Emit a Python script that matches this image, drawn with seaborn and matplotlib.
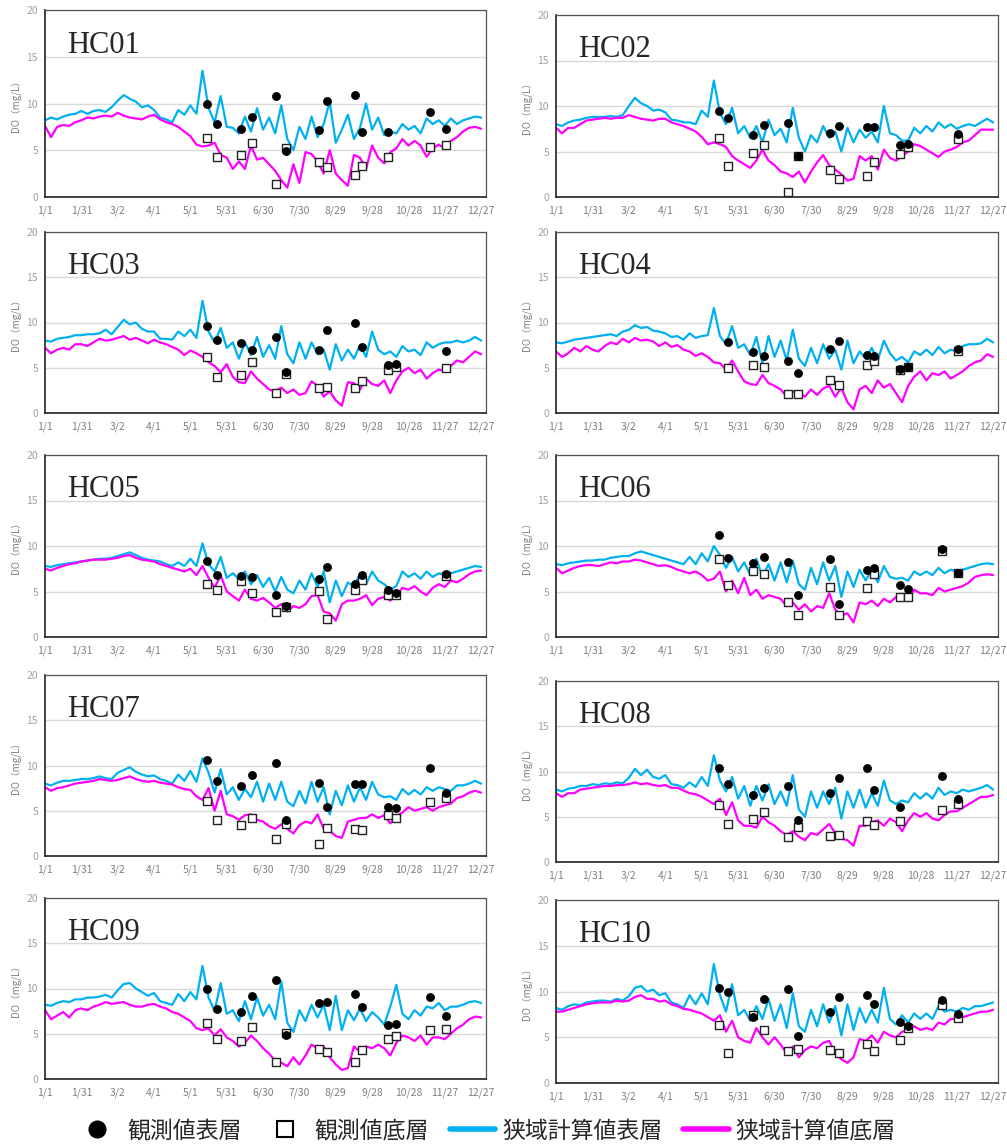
import numpy as np
import pandas as pd
import seaborn as sns
import matplotlib.pyplot as plt
from matplotlib.lines import Line2D

# simulated values read every 5 days (day 0 = 1/1)
SIM_DAYS = list(range(0, 365, 5))
OBS_DAYS = [134, 142, 162, 171, 191, 199, 226, 233, 256, 262, 283, 290, 318, 331]
TICK_DAYS = list(range(0, 361, 30))
TICK_LABELS = ["1/1", "1/31", "3/2", "4/1", "5/1", "5/31", "6/30", "7/30",
               "8/29", "9/28", "10/28", "11/27", "12/27"]
STATIONS = ["HC01", "HC02", "HC03", "HC04", "HC05",
            "HC06", "HC07", "HC08", "HC09", "HC10"]
nan = np.nan

HC01_SURF = [8.2, 8.5, 8.3, 8.6, 8.8, 8.9, 9.2, 8.9, 9.2, 9.3, 9.1, 9.6,
             10.3, 10.9, 10.5, 10.2, 9.6, 9.8, 9.3, 8.5, 8.3, 8.0, 9.3, 8.8,
             9.8, 8.9, 13.5, 9.5, 8.0, 10.8, 7.5, 7.4, 6.8, 8.6, 7.0, 9.5,
             7.2, 8.5, 6.8, 9.8, 6.2, 5.0, 7.5, 6.2, 8.6, 6.4, 7.8, 10.2,
             5.8, 7.2, 8.8, 6.2, 7.4, 10.0, 7.2, 8.5, 6.6, 7.0, 6.8, 7.8,
             7.2, 7.6, 6.8, 8.4, 7.8, 8.2, 7.6, 8.4, 7.8, 8.2, 8.4, 8.6,
             8.5]
HC01_BOT = [7.6, 6.4, 7.5, 7.7, 7.6, 8.0, 8.2, 8.5, 8.4, 8.6, 8.7, 8.6,
            9.0, 8.7, 8.5, 8.4, 8.3, 8.6, 8.8, 8.3, 8.0, 7.8, 7.5, 7.0,
            6.5, 5.6, 5.4, 5.5, 5.8, 4.5, 4.2, 3.0, 3.8, 3.0, 5.5, 4.0,
            4.2, 3.5, 2.8, 1.8, 1.0, 3.5, 1.5, 4.8, 4.6, 3.8, 2.5, 5.0,
            2.5, 1.8, 1.2, 4.5, 4.2, 3.0, 5.5, 4.2, 3.6, 4.8, 5.2, 6.2,
            5.5, 6.0, 5.5, 4.3, 5.2, 5.6, 5.2, 6.0, 6.4, 7.0, 7.4, 7.5,
            7.3]
HC02_SURF = [8.0, 7.8, 8.2, 8.4, 8.5, 8.7, 8.8, 8.8, 8.8, 8.9, 8.8, 9.0,
             10.0, 10.9, 10.3, 10.0, 9.5, 9.6, 9.3, 8.5, 8.4, 8.2, 8.2, 8.0,
             9.5, 8.8, 12.8, 9.2, 8.0, 9.8, 7.0, 7.8, 6.5, 7.8, 6.0, 8.5,
             6.8, 7.5, 6.0, 9.8, 6.5, 5.0, 6.8, 6.0, 7.8, 6.5, 7.2, 5.0,
             7.6, 6.0, 7.4, 6.5, 7.2, 6.0, 10.0, 7.0, 6.8, 6.2, 6.2, 7.6,
             7.0, 7.8, 7.2, 8.2, 7.6, 8.0, 7.5, 7.8, 8.0, 7.8, 8.2, 8.6,
             8.2]
HC02_BOT = [7.6, 7.0, 7.6, 7.6, 8.0, 8.4, 8.5, 8.6, 8.7, 8.6, 8.7, 8.7,
            9.0, 8.8, 8.6, 8.5, 8.4, 8.6, 8.6, 8.2, 8.0, 7.8, 7.5, 7.2,
            6.6, 5.8, 6.0, 5.8, 5.5, 4.5, 4.0, 3.6, 3.2, 4.0, 5.2, 4.0,
            3.5, 2.8, 2.6, 2.2, 2.8, 1.6, 2.8, 3.8, 4.6, 3.5, 3.0, 2.5,
            1.8, 2.0, 4.5, 4.0, 4.5, 3.0, 5.2, 4.3, 4.0, 4.5, 5.0, 5.8,
            5.6, 5.2, 4.8, 4.4, 5.0, 5.2, 5.5, 6.0, 6.2, 6.8, 7.4, 7.4,
            7.4]
HC03_SURF = [8.0, 7.9, 8.2, 8.3, 8.4, 8.6, 8.6, 8.7, 8.7, 8.8, 9.2, 8.7,
             9.5, 10.3, 9.8, 10.0, 9.3, 9.0, 9.0, 8.2, 8.2, 8.1, 9.0, 8.5,
             9.2, 8.3, 12.4, 9.0, 7.8, 9.4, 7.2, 7.8, 6.0, 7.8, 6.4, 8.4,
             6.2, 7.5, 6.0, 9.6, 6.5, 5.5, 7.8, 6.0, 7.8, 6.5, 7.0, 4.8,
             7.6, 5.8, 7.0, 6.0, 7.5, 6.2, 9.0, 7.0, 6.5, 6.8, 6.2, 7.4,
             6.8, 7.0, 6.4, 7.8, 7.2, 7.6, 7.8, 7.8, 8.0, 7.8, 8.0, 8.4,
             8.0]
HC03_BOT = [7.2, 6.6, 7.0, 7.2, 7.0, 7.6, 7.6, 7.4, 7.8, 8.2, 8.0, 8.1,
            8.3, 8.5, 8.1, 8.3, 8.0, 7.7, 8.1, 7.8, 7.6, 7.3, 7.0, 6.4,
            6.9, 6.6, 6.2, 5.6, 5.2, 4.5, 5.4, 4.0, 3.4, 3.3, 4.6, 3.8,
            3.2, 2.6, 2.4, 2.8, 2.2, 2.6, 2.0, 2.2, 3.5, 3.0, 1.8, 2.4,
            1.4, 0.8, 3.4, 3.3, 2.6, 3.8, 3.2, 3.0, 3.6, 2.2, 3.6, 4.6,
            5.0, 4.4, 4.8, 3.8, 4.4, 4.8, 4.6, 5.2, 5.8, 5.6, 6.2, 6.8,
            6.5]
HC04_SURF = [7.8, 7.7, 7.9, 8.1, 8.2, 8.3, 8.4, 8.5, 8.6, 8.7, 8.5, 9.0,
             9.2, 9.7, 9.4, 9.5, 9.1, 9.0, 8.8, 8.4, 8.5, 8.1, 8.8, 8.3,
             8.5, 8.6, 11.6, 8.5, 7.6, 9.6, 7.2, 7.6, 6.4, 8.4, 5.5, 8.5,
             6.2, 8.0, 5.8, 9.2, 6.0, 5.2, 7.2, 5.5, 7.6, 6.0, 7.0, 4.8,
             8.0, 5.5, 6.8, 6.0, 7.2, 5.8, 8.0, 6.6, 5.8, 6.2, 5.6, 6.8,
             6.4, 7.0, 6.4, 7.3, 6.6, 7.0, 6.8, 7.4, 7.6, 7.6, 7.7, 8.2,
             7.8]
HC04_BOT = [6.8, 6.2, 6.6, 7.2, 6.8, 7.4, 7.0, 6.8, 7.4, 7.8, 7.6, 8.2,
            7.8, 8.3, 8.0, 8.1, 7.9, 7.4, 7.8, 7.3, 7.5, 7.0, 6.8, 6.3,
            6.6, 6.2, 5.6, 5.5, 4.8, 5.8, 4.6, 3.5, 3.2, 3.1, 4.2, 3.3,
            3.0, 2.6, 1.8, 2.4, 2.2, 1.8, 2.6, 2.0, 2.7, 3.0, 1.8, 2.8,
            1.2, 0.4, 2.6, 3.0, 2.2, 3.6, 2.8, 3.2, 2.2, 1.2, 3.0, 4.0,
            4.6, 3.6, 4.4, 4.2, 4.6, 3.8, 4.2, 4.6, 5.2, 5.6, 5.8, 6.5,
            6.2]
HC05_SURF = [7.8, 7.7, 7.9, 8.0, 8.1, 8.2, 8.3, 8.4, 8.5, 8.6, 8.6, 8.7,
             8.9, 9.1, 9.3, 9.0, 8.7, 8.5, 8.4, 8.3, 8.0, 7.8, 8.2, 7.8,
             8.6, 7.8, 10.3, 8.0, 7.2, 8.8, 6.5, 7.0, 6.4, 7.2, 5.8, 6.8,
             5.5, 6.5, 5.0, 6.6, 5.2, 4.8, 6.2, 5.2, 7.0, 5.5, 7.2, 3.8,
             6.2, 4.5, 6.0, 5.5, 7.0, 5.8, 7.2, 6.2, 5.8, 5.2, 5.6, 7.2,
             6.6, 7.0, 6.4, 7.2, 6.6, 7.0, 6.8, 7.0, 7.2, 7.4, 7.6, 7.8,
             7.7]
HC05_BOT = [7.5, 7.3, 7.6, 7.8, 8.0, 8.1, 8.3, 8.4, 8.5, 8.5, 8.5, 8.6,
            8.7, 8.9, 9.0, 8.7, 8.5, 8.4, 8.3, 8.0, 7.8, 7.6, 7.4, 7.2,
            7.5, 6.8, 7.8, 6.5, 5.4, 6.8, 5.0, 4.5, 4.0, 5.2, 4.2, 4.0,
            4.3, 3.8, 3.2, 3.6, 2.8, 3.4, 3.2, 3.6, 4.5, 4.6, 2.8, 2.6,
            1.8, 3.6, 4.0, 4.0, 4.2, 4.6, 3.5, 4.2, 4.4, 4.0, 4.6, 5.4,
            5.2, 5.6, 5.0, 4.6, 5.4, 5.8, 5.5, 6.2, 6.0, 6.4, 6.9, 7.2,
            7.3]
HC06_SURF = [8.0, 7.9, 8.1, 8.2, 8.3, 8.4, 8.4, 8.5, 8.5, 8.7, 8.8, 8.9,
             8.9, 9.2, 9.4, 9.2, 9.0, 8.8, 8.6, 8.4, 8.2, 8.0, 8.8, 8.0,
             9.2, 8.3, 10.0, 9.0, 7.6, 8.8, 7.2, 8.2, 6.8, 8.6, 6.6, 8.0,
             6.2, 8.2, 6.0, 8.4, 5.8, 5.2, 7.6, 5.8, 8.2, 6.2, 7.8, 4.4,
             7.2, 5.5, 7.4, 6.2, 7.4, 6.0, 7.8, 6.6, 6.4, 6.5, 6.2, 7.2,
             6.8, 7.2, 6.8, 7.6, 7.0, 7.4, 7.2, 7.4, 7.6, 7.8, 8.0, 8.1,
             8.0]
HC06_BOT = [7.6, 7.0, 7.3, 7.6, 7.8, 7.9, 7.9, 7.8, 8.0, 8.2, 8.1, 8.3,
            8.3, 8.5, 8.4, 8.2, 8.0, 7.8, 7.9, 7.7, 7.4, 7.2, 7.0, 7.2,
            6.8, 6.2, 6.4, 7.2, 5.0, 6.2, 4.8, 6.5, 4.6, 5.2, 4.2, 4.6,
            4.4, 4.2, 3.4, 3.8, 3.0, 3.6, 2.8, 3.4, 3.2, 4.8, 3.0, 2.4,
            2.6, 1.6, 3.8, 3.6, 4.0, 3.4, 4.2, 3.8, 4.4, 4.0, 4.0, 5.2,
            4.8, 4.8, 4.6, 5.4, 5.0, 5.2, 5.4, 5.6, 6.0, 6.6, 6.8, 6.9,
            6.8]
HC07_SURF = [8.0, 7.8, 8.1, 8.3, 8.3, 8.4, 8.5, 8.5, 8.6, 8.8, 8.6, 8.5,
             9.2, 9.5, 9.8, 9.3, 9.0, 8.8, 8.9, 8.5, 8.3, 8.0, 9.0, 8.3,
             9.4, 8.2, 10.8, 9.2, 7.0, 9.6, 6.8, 7.6, 6.2, 7.4, 6.5, 8.2,
             6.0, 8.0, 6.2, 8.2, 6.0, 5.5, 7.2, 5.8, 8.2, 6.0, 7.6, 4.6,
             7.2, 5.6, 7.8, 6.0, 7.6, 6.2, 8.2, 6.8, 6.5, 6.6, 6.2, 7.4,
             6.8, 7.3, 6.8, 7.6, 7.2, 7.6, 7.4, 7.2, 7.8, 7.8, 8.0, 8.3,
             8.0]
HC07_BOT = [7.6, 7.2, 7.5, 7.6, 7.8, 8.0, 8.1, 8.2, 8.3, 8.5, 8.4, 8.3,
            8.4, 8.6, 8.8, 8.5, 8.3, 8.2, 8.3, 8.1, 8.0, 7.9, 7.6, 7.4,
            7.3, 6.6, 6.2, 7.5, 5.0, 7.2, 4.6, 4.4, 4.0, 4.5, 4.6, 4.0,
            3.8, 3.3, 3.0, 3.5, 3.0, 2.5, 3.4, 3.8, 3.6, 4.6, 3.0, 2.8,
            2.2, 2.0, 3.8, 4.0, 4.2, 4.2, 4.6, 4.2, 4.5, 3.6, 4.4, 4.8,
            5.4, 5.0, 5.2, 5.4, 5.0, 5.4, 5.6, 5.8, 6.4, 6.6, 7.0, 7.2,
            7.0]
HC08_SURF = [8.0, 7.8, 8.1, 8.2, 8.4, 8.4, 8.6, 8.5, 8.7, 8.6, 8.8, 8.7,
             9.3, 10.3, 9.6, 10.2, 9.4, 9.2, 9.6, 8.6, 8.5, 8.2, 8.8, 8.3,
             9.4, 8.4, 11.8, 9.0, 7.8, 9.4, 7.0, 8.4, 6.2, 8.4, 6.8, 8.6,
             6.4, 7.8, 6.2, 9.6, 5.8, 5.0, 7.8, 6.0, 7.8, 6.4, 8.2, 4.8,
             7.8, 6.0, 8.0, 6.0, 7.6, 6.2, 9.0, 6.8, 6.4, 6.8, 6.6, 7.6,
             7.0, 7.6, 7.0, 8.2, 7.4, 7.8, 7.6, 8.0, 7.8, 8.0, 8.2, 8.5,
             8.0]
HC08_BOT = [7.6, 7.2, 7.6, 7.6, 8.0, 8.1, 8.2, 8.3, 8.4, 8.4, 8.5, 8.5,
            8.6, 8.8, 8.6, 8.7, 8.5, 8.4, 8.5, 8.2, 8.2, 7.9, 7.6, 7.5,
            7.2, 6.8, 6.4, 7.0, 5.2, 6.6, 4.6, 4.0, 4.0, 3.8, 5.0, 4.4,
            4.0, 3.4, 3.0, 3.4, 2.8, 2.4, 3.2, 3.0, 3.6, 4.2, 3.2, 2.6,
            2.4, 1.8, 4.0, 4.0, 4.4, 4.6, 4.0, 4.8, 4.4, 3.4, 4.6, 5.4,
            5.0, 5.4, 4.8, 4.6, 5.2, 5.6, 5.6, 6.0, 6.4, 6.8, 7.2, 7.2,
            7.4]
HC09_SURF = [8.2, 8.1, 8.4, 8.6, 8.5, 8.8, 8.8, 9.0, 9.0, 9.1, 9.3, 9.0,
             9.8, 10.5, 10.6, 10.0, 9.6, 9.2, 9.5, 8.6, 8.4, 8.2, 9.4, 8.6,
             9.6, 8.8, 12.5, 9.0, 7.5, 10.6, 7.2, 7.6, 6.4, 8.6, 6.6, 9.0,
             7.0, 8.2, 6.6, 10.8, 6.2, 5.2, 7.6, 6.4, 8.2, 6.8, 8.2, 5.4,
             9.2, 5.4, 7.6, 6.5, 7.8, 6.4, 7.4, 6.8, 6.0, 8.0, 10.4, 7.2,
             6.6, 7.6, 7.0, 8.0, 7.8, 8.4, 7.6, 8.0, 8.0, 8.2, 8.5, 8.6,
             8.4]
HC09_BOT = [7.6, 6.6, 7.0, 7.4, 6.8, 7.6, 7.8, 7.6, 8.0, 8.2, 8.5, 8.3,
            8.4, 8.5, 8.2, 8.0, 8.0, 8.2, 8.3, 8.0, 7.8, 7.4, 7.2, 6.8,
            6.4, 5.6, 5.4, 5.6, 4.8, 5.5, 4.6, 4.2, 3.6, 4.0, 4.8, 4.2,
            3.4, 2.8, 2.0, 1.8, 1.4, 2.4, 1.6, 2.6, 3.8, 3.4, 3.6, 2.4,
            1.6, 1.0, 1.2, 3.6, 3.0, 3.6, 3.4, 3.8, 3.4, 2.6, 4.0, 4.8,
            4.6, 4.2, 4.8, 3.8, 4.6, 4.6, 4.4, 5.0, 5.6, 6.0, 6.6, 6.9,
            6.8]
HC10_SURF = [8.2, 8.0, 8.4, 8.6, 8.5, 8.8, 8.9, 9.0, 9.0, 8.9, 9.2, 9.0,
             9.5, 10.4, 10.6, 10.0, 10.2, 9.6, 9.8, 8.8, 8.6, 8.2, 9.6, 8.6,
             9.8, 8.6, 13.0, 9.6, 7.8, 10.8, 7.4, 8.0, 6.8, 8.4, 7.0, 9.2,
             6.8, 8.6, 6.0, 9.8, 6.2, 5.6, 8.0, 6.2, 8.6, 6.6, 8.4, 5.2,
             8.6, 5.8, 8.2, 6.6, 8.0, 6.6, 10.4, 7.0, 6.4, 7.4, 6.6, 7.6,
             7.0, 7.6, 7.0, 8.4, 7.8, 8.0, 7.8, 8.2, 8.0, 8.4, 8.4, 8.6,
             8.8]
HC10_BOT = [7.8, 7.8, 8.0, 8.2, 8.4, 8.6, 8.7, 8.8, 8.8, 8.8, 9.0, 8.9,
            9.0, 9.4, 9.6, 9.2, 9.2, 8.9, 9.0, 8.6, 8.4, 8.1, 8.0, 7.8,
            7.6, 7.2, 6.8, 7.4, 5.6, 6.8, 5.0, 4.6, 4.4, 6.0, 5.0, 4.2,
            5.0, 4.2, 3.2, 4.0, 2.8, 3.6, 4.0, 3.8, 4.4, 4.6, 3.2, 2.6,
            2.2, 2.8, 4.8, 4.6, 5.2, 4.4, 5.6, 5.2, 5.0, 5.6, 5.8, 6.2,
            5.8, 6.0, 5.8, 6.6, 6.4, 7.0, 7.0, 7.2, 7.4, 7.6, 7.8, 7.8,
            8.0]

# observed values at OBS_DAYS (nan = not observed at that station)
HC01_OBS_SURF = [10.0, 7.8, 7.3, 8.6, 10.8, 4.9, 7.2, 10.3, 10.9, 7.0, 6.9, nan, 9.1, 7.3]
HC01_OBS_BOT = [6.3, 4.25, 4.5, 5.75, 1.4, 5.2, 3.7, 3.2, 2.4, 3.3, 4.3, nan, 5.4, 5.6]
HC02_OBS_SURF = [9.45, 8.65, 6.8, 7.9, 8.1, 4.55, 7.0, 7.85, 7.65, 7.65, 5.75, 5.85, nan, 6.95]
HC02_OBS_BOT = [6.5, 3.4, 4.8, 5.7, 0.6, 4.55, 3.0, 2.0, 2.35, 3.85, 4.75, 5.5, nan, 6.4]
HC03_OBS_SURF = [9.65, 8.1, 7.75, 7.0, 8.35, 4.55, 7.0, 9.15, 9.9, 7.3, 5.35, 5.45, nan, 6.9]
HC03_OBS_BOT = [6.2, 4.0, 4.25, 5.65, 2.25, 4.35, 2.75, 2.85, 2.8, 3.55, 4.8, 5.05, nan, 5.0]
HC04_OBS_SURF = [nan, 7.85, 6.7, 6.35, 5.8, 4.45, 7.1, 8.0, 6.4, 6.25, 4.85, 5.1, nan, 7.05]
HC04_OBS_BOT = [nan, 4.95, 5.25, 5.1, 2.05, 2.15, 3.7, 3.1, 5.3, 5.8, 4.8, 5.1, nan, 6.8]
HC05_OBS_SURF = [8.3, 6.8, 6.75, 6.55, 4.65, 3.45, 6.4, 7.65, 5.85, 6.8, 5.2, 4.8, nan, 6.95]
HC05_OBS_BOT = [5.8, 5.2, 6.15, 4.8, 2.7, 3.35, 5.05, 2.0, 5.2, 6.3, 4.6, 4.6, nan, 6.7]
HC06_OBS_SURF = [11.2, 8.65, 8.1, 8.75, 8.2, 4.65, 8.55, 3.65, 7.35, 7.6, 5.7, 5.3, 9.7, 7.05]
HC06_OBS_BOT = [8.6, 5.7, 7.3, 6.95, 3.85, 2.4, 5.45, 2.45, 5.4, 6.95, 4.45, 4.4, 9.4, 7.05]
HC07_OBS_SURF = [10.6, 8.25, 7.7, 8.9, 10.3, 4.0, 8.1, 5.45, 8.0, 7.95, 5.4, 5.3, 9.75, 7.0]
HC07_OBS_BOT = [6.05, 3.95, 3.45, 4.25, 1.9, 3.5, 1.35, 3.05, 3.0, 2.85, 4.5, 4.2, 6.0, 6.4]
HC08_OBS_SURF = [10.4, 8.6, 7.4, 8.2, 8.4, 4.6, 7.6, 9.25, 10.4, 7.95, 6.1, nan, 9.55, 6.95]
HC08_OBS_BOT = [6.25, 4.25, 4.75, 5.5, 2.8, 3.9, 2.9, 2.95, 4.5, 4.1, 4.5, nan, 5.75, 6.45]
HC09_OBS_SURF = [10.0, 7.7, 7.45, 9.2, 10.9, 4.85, 8.45, 8.55, 9.4, 7.95, 6.0, 6.1, 9.1, 6.95]
HC09_OBS_BOT = [6.2, 4.4, 4.15, 5.75, 1.85, 5.1, 3.3, 3.0, 1.9, 3.15, 4.4, 4.8, 5.45, 5.55]
HC10_OBS_SURF = [10.4, 10.0, 7.2, 9.15, 10.3, 5.1, 7.75, 9.4, 9.6, 8.6, 6.7, 6.25, 9.1, 7.5]
HC10_OBS_BOT = [6.3, 3.25, 7.45, 5.75, 3.55, 3.7, 3.6, 3.3, 4.25, 3.45, 4.65, 6.0, 8.55, 7.1]

SIM = {
    "HC01": (HC01_SURF, HC01_BOT), "HC02": (HC02_SURF, HC02_BOT),
    "HC03": (HC03_SURF, HC03_BOT), "HC04": (HC04_SURF, HC04_BOT),
    "HC05": (HC05_SURF, HC05_BOT), "HC06": (HC06_SURF, HC06_BOT),
    "HC07": (HC07_SURF, HC07_BOT), "HC08": (HC08_SURF, HC08_BOT),
    "HC09": (HC09_SURF, HC09_BOT), "HC10": (HC10_SURF, HC10_BOT),
}
OBS = {
    "HC01": (HC01_OBS_SURF, HC01_OBS_BOT), "HC02": (HC02_OBS_SURF, HC02_OBS_BOT),
    "HC03": (HC03_OBS_SURF, HC03_OBS_BOT), "HC04": (HC04_OBS_SURF, HC04_OBS_BOT),
    "HC05": (HC05_OBS_SURF, HC05_OBS_BOT), "HC06": (HC06_OBS_SURF, HC06_OBS_BOT),
    "HC07": (HC07_OBS_SURF, HC07_OBS_BOT), "HC08": (HC08_OBS_SURF, HC08_OBS_BOT),
    "HC09": (HC09_OBS_SURF, HC09_OBS_BOT), "HC10": (HC10_OBS_SURF, HC10_OBS_BOT),
}

BLUE = "#00B0F0"
MAGENTA = "#FF00FF"

sns.set_style("white")
plt.rcParams["font.family"] = ["Noto Sans CJK JP", "DejaVu Sans"]

W, H = 1007, 1144
fig = plt.figure(figsize=(W / 100, H / 100), dpi=100)

# panel boxes in pixels: (left, right, top, bottom)
cols = [(45, 486), (556, 998)]
rows_left = [(10, 197), (232, 413), (455, 637), (675, 856), (898, 1079)]
rows_right = [(15, 197), (232, 413), (455, 637), (681, 862), (900, 1083)]

for i, name in enumerate(STATIONS):
    r, c = divmod(i, 2)
    x0, x1 = cols[c]
    y0, y1 = (rows_left if c == 0 else rows_right)[r]
    ax = fig.add_axes([x0 / W, 1 - y1 / H, (x1 - x0) / W, (y1 - y0) / H])

    surf, bot = SIM[name]
    sim = pd.DataFrame({"day": SIM_DAYS, "surf": surf, "bot": bot})
    osurf, obot = OBS[name]
    obs = pd.DataFrame({"day": OBS_DAYS, "surf": osurf, "bot": obot})

    sns.lineplot(data=sim, x="day", y="surf", ax=ax, color=BLUE, lw=1.6)
    sns.lineplot(data=sim, x="day", y="bot", ax=ax, color=MAGENTA, lw=1.6)
    sns.scatterplot(data=obs, x="day", y="bot", ax=ax, marker="s", s=28,
                    color="white", edgecolor="#222222", linewidth=1.0, zorder=4)
    sns.scatterplot(data=obs, x="day", y="surf", ax=ax, marker="o", s=34,
                    color="black", edgecolor="black", linewidth=0.5, zorder=5)

    ax.set_xlim(0, 364)
    ax.set_ylim(0, 20)
    ax.set_xticks(TICK_DAYS)
    ax.set_xticklabels(TICK_LABELS)
    ax.set_xticks(range(0, 365, 10), minor=True)
    ax.set_yticks([0, 5, 10, 15, 20])
    ax.yaxis.grid(True, color="#d9d9d9", lw=1)
    ax.set_axisbelow(True)
    ax.tick_params(axis="x", which="major", direction="out", length=4, width=1,
                   color="#333333", labelsize=7.5, labelcolor="#808080", pad=2)
    ax.tick_params(axis="x", which="minor", direction="out", length=2.5,
                   width=1, color="#333333")
    ax.tick_params(axis="y", which="major", direction="out", length=3, width=1,
                   color="#333333", labelsize=7.5, labelcolor="#a0a0a0", pad=2)
    for side in ["left", "bottom"]:
        ax.spines[side].set_color("#222222")
        ax.spines[side].set_linewidth(1.2)
    for side in ["top", "right"]:
        ax.spines[side].set_color("#555555")
        ax.spines[side].set_linewidth(0.9)
    ax.set_xlabel("")
    ax.set_ylabel("DO（mg/L）", fontsize=7, color="#808080", labelpad=4)
    ax.text(0.05, 0.81, name, transform=ax.transAxes, fontsize=22,
            family="Liberation Serif", va="center", ha="left")

handles = [
    Line2D([], [], marker="o", color="black", ls="none", markersize=12),
    Line2D([], [], marker="s", mfc="white", mec="black", mew=1.5, ls="none",
           markersize=11),
    Line2D([], [], color=BLUE, lw=4),
    Line2D([], [], color=MAGENTA, lw=4),
]
labels = ["観測値表層", "観測値底層", "狭域計算値表層", "狭域計算値底層"]
fig.legend(handles, labels, loc="center", ncol=4, frameon=False,
           bbox_to_anchor=(485 / W, 1 - 1131 / H), fontsize=16.5,
           handlelength=2.0, handletextpad=0.3, columnspacing=0.9)

fig.savefig("out.png", dpi=100)
